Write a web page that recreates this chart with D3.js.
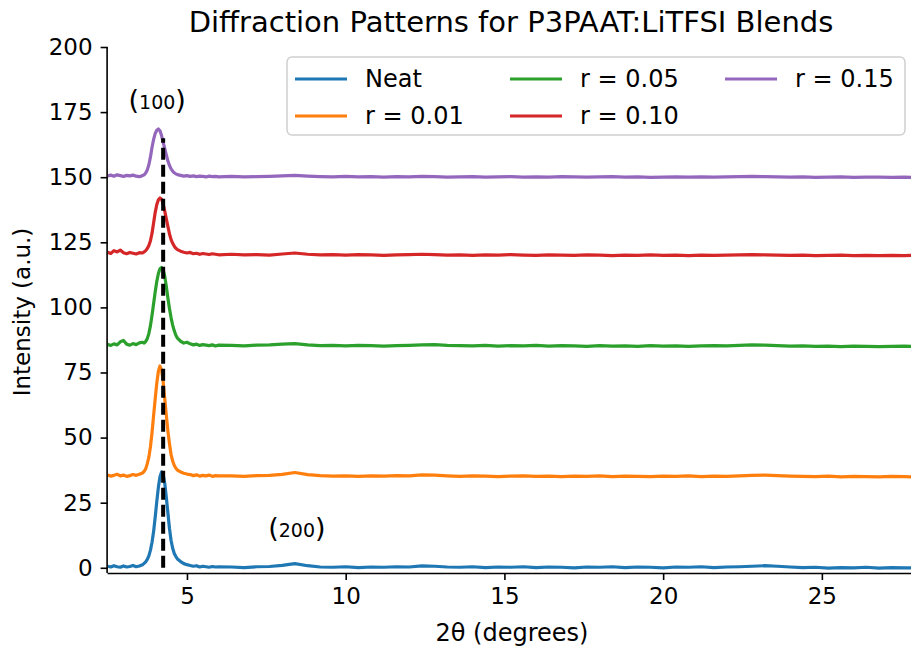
<!DOCTYPE html>
<html>
<head>
<meta charset="utf-8">
<script src="https://cdn.jsdelivr.net/npm/d3@7"></script>
<style>
  html, body { margin: 0; padding: 0; background: #fff; }
  svg { display: block; font-family: "DejaVu Sans", sans-serif; }
</style>
</head>
<body>
<svg id="chart" width="911" height="647"></svg>
<script>
// 2θ sampling positions (degrees)
const twoTheta = [
  2.5, 2.6, 2.7, 2.8, 2.9, 3.0, 3.1, 3.2, 3.3, 3.4, 3.5, 3.6,
  3.65, 3.70, 3.75, 3.80, 3.85, 3.90, 3.95, 4.00, 4.05, 4.10, 4.15, 4.20, 4.25, 4.30, 4.35, 4.40, 4.45, 4.50, 4.55, 4.60, 4.65, 4.70,
  4.8, 4.9, 5.0, 5.1, 5.2, 5.3, 5.4, 5.5, 5.6, 5.7, 5.8, 5.9, 6.0,
  6.4, 6.8, 7.2, 7.6, 8.0, 8.4, 8.8, 9.2, 9.6, 10.0, 10.4, 10.8, 11.2, 11.6, 12.0, 12.4, 12.8, 13.2, 13.6, 14.0,
  14.4, 14.8, 15.2, 15.6, 16.0, 16.4, 16.8, 17.2, 17.6, 18.0, 18.4, 18.8, 19.2, 19.6, 20.0, 20.4, 20.8, 21.2,
  21.6, 22.0, 22.4, 22.8, 23.2, 23.6, 24.0, 24.4, 24.8, 25.2, 25.6, 26.0, 26.4, 26.8, 27.2, 27.6, 28.0
];

// Offset intensity traces (a.u.)
const neat = [
  0.6, 0.3, 0.8, 0.4, 0.2, 0.7, 0.3, 0.5, 0.9, 0.4, 0.7, 1.2,
  1.7, 2.3, 3.2, 4.6, 6.8, 9.8, 14.0, 19.5, 25.5, 31.0, 35.0, 36.8, 36.0, 32.5, 27.0, 21.0, 15.0, 10.5, 7.5, 5.5, 4.3, 3.4,
  2.4, 1.6, 1.2, 0.9, 0.6, 0.8, 0.3, 0.6, 0.4, 0.2, 0.5, 0.3, 0.4,
  0.3, 0.1, 0.4, 0.5, 0.9, 1.6, 0.8, 0.3, 0.2, 0.4, 0.1, 0.3, 0.2, 0.4, 0.3, 0.7, 0.6, 0.3, 0.2, 0.4,
  0.1, 0.3, 0.2, 0.4, 0.1, 0.3, 0.2, 0.0, 0.3, 0.2, 0.4, 0.1, 0.3, 0.2, 0.0, 0.3, 0.2, 0.4,
  0.1, 0.3, 0.4, 0.6, 0.8, 0.6, 0.3, 0.1, 0.2, -0.1, 0.1, 0.0, 0.2, -0.1, 0.1, 0.0, -0.1
];
const r001 = [
  35.6, 35.2, 35.5, 35.9, 35.3, 35.6, 35.1, 35.4, 35.8, 35.5, 35.9, 36.4,
  37.0, 38.0, 40.0, 42.5, 46.5, 52.0, 58.5, 65.0, 71.0, 75.5, 77.5, 76.0, 71.5, 65.0, 58.5, 52.5, 47.5, 43.5, 41.0, 39.3, 38.2, 37.5,
  36.8, 36.3, 36.0, 35.8, 35.4, 35.7, 35.2, 35.5, 35.3, 35.6, 35.1, 35.4, 35.3,
  35.3, 35.1, 35.4, 35.5, 35.9, 36.6, 35.8, 35.4, 35.2, 35.3, 35.1, 35.3, 35.2, 35.4, 35.3, 35.7, 35.6, 35.3, 35.1, 35.3,
  35.2, 35.0, 35.2, 35.3, 35.1, 35.2, 35.0, 35.2, 35.1, 35.3, 35.0, 35.2, 35.1, 35.0, 35.2, 35.1, 35.3, 35.0,
  35.2, 35.1, 35.3, 35.5, 35.6, 35.4, 35.2, 35.1, 35.0, 35.2, 34.9, 35.1, 35.0, 34.9, 35.1, 35.0, 34.9
];
const r005 = [
  85.8, 85.4, 86.0, 85.6, 86.8, 87.3, 85.9, 85.5, 86.1, 85.7, 86.4, 86.6,
  86.3, 86.9, 88.0, 90.0, 93.0, 97.0, 101.5, 106.0, 110.0, 113.0, 114.8, 115.3, 114.5, 112.0, 108.0, 103.5, 99.5, 96.0, 93.2, 91.0, 89.3, 88.2,
  87.0, 86.3, 86.6, 86.0, 85.6, 85.9, 85.4, 85.7, 85.5, 85.3, 85.6, 85.2, 85.5,
  85.4, 85.2, 85.5, 85.6, 85.9, 86.1, 85.6, 85.3, 85.4, 85.2, 85.4, 85.3, 85.1, 85.3, 85.4, 85.6, 85.7, 85.4, 85.3, 85.2,
  85.4, 85.1, 85.3, 85.2, 85.4, 85.1, 85.3, 85.2, 85.0, 85.3, 85.1, 85.2, 85.0, 85.3, 85.1, 85.2, 85.0, 85.2,
  85.3, 85.2, 85.4, 85.6, 85.5, 85.3, 85.1, 85.2, 85.0, 85.1, 84.9, 85.1, 85.0, 84.9, 85.0, 85.1, 84.9
];
const r010 = [
  121.2, 120.7, 121.8, 121.3, 122.0, 121.0, 120.6, 121.1, 120.8, 120.5, 121.0, 120.9,
  121.3, 121.8, 122.6, 123.8, 125.6, 128.5, 132.5, 136.5, 139.5, 141.3, 142.0, 141.5, 139.8, 137.0, 134.0, 131.0, 128.2, 126.0, 124.6, 123.5, 122.7, 122.2,
  121.6, 121.2, 120.9, 121.1, 120.6, 120.8, 120.4, 120.7, 120.5, 120.3, 120.6, 120.4, 120.2,
  120.4, 120.2, 120.3, 120.1, 120.5, 120.9, 120.4, 120.2, 120.3, 120.1, 120.3, 120.2, 120.0, 120.2, 120.3, 120.4, 120.3, 120.1, 120.2, 120.0,
  120.2, 120.1, 120.3, 120.1, 120.0, 120.2, 120.1, 120.0, 120.2, 120.1, 119.9, 120.1, 120.0, 120.2, 120.0, 120.1, 119.9, 120.1,
  120.0, 120.1, 120.2, 120.3, 120.2, 120.1, 120.0, 120.1, 119.9, 120.0, 120.1, 119.9, 120.0, 119.9, 120.0, 119.9, 120.0
];
const r015 = [
  150.5, 150.8, 150.4, 150.9, 150.6, 150.3, 150.7, 150.5, 150.8, 150.4, 150.2, 150.6,
  150.9, 151.6, 152.8, 154.8, 157.8, 161.5, 164.5, 166.8, 168.0, 168.5, 167.8, 166.0, 163.5, 161.0, 158.6, 156.2, 154.5, 153.2, 152.3, 151.7, 151.3, 151.0,
  150.7, 150.4, 150.6, 150.3, 150.5, 150.2, 150.4, 150.3, 150.1, 150.4, 150.2, 150.3, 150.1,
  150.3, 150.1, 150.2, 150.3, 150.5, 150.7, 150.4, 150.2, 150.1, 150.3, 150.1, 150.2, 150.0, 150.2, 150.1, 150.3, 150.2, 150.0, 150.1, 150.2,
  150.0, 150.1, 150.2, 150.0, 150.1, 150.0, 150.2, 150.1, 150.0, 150.1, 150.2, 150.0, 150.1, 149.9, 150.0, 150.1, 150.0, 150.1,
  150.0, 150.1, 150.2, 150.3, 150.2, 150.1, 150.0, 150.1, 149.9, 150.0, 150.1, 149.9, 150.0, 150.0, 149.9, 150.0, 149.9
];

const seriesNames = ["Neat", "r = 0.01", "r = 0.05", "r = 0.10", "r = 0.15"];
const seriesColors = ["#1f77b4", "#ff7f0e", "#2ca02c", "#d62728", "#9467bd"];
const seriesValues = [neat, r001, r005, r010, r015];

const xTicks = [5, 10, 15, 20, 25];
const yTicks = [0, 25, 50, 75, 100, 125, 150, 175, 200];

// (100) reflection marker position and reach
const peakPosition = 4.25;
const peakMarkerTop = 165;
const reflectionLabels = [
  { hkl: "100", x: 4.0, y: 176 },
  { hkl: "200", x: 8.4, y: 12 }
];

const svg = d3.select("#chart");
const font = "DejaVu Sans, sans-serif";

const x = d3.scaleLinear().domain([2.5, 28]).range([107.6, 917.1]);
const y = d3.scaleLinear().domain([-2, 200]).range([573, 47]);

// traces
const line = d3.line()
  .x(d => x(d[0]))
  .y(d => y(d[1]));

svg.append("defs").append("clipPath").attr("id", "plot-clip")
  .append("rect").attr("x", 107.6).attr("y", 40).attr("width", 911 - 107.6).attr("height", 573 - 40);

const traces = svg.append("g").attr("clip-path", "url(#plot-clip)");
seriesValues.forEach((vals, i) => {
  traces.append("path")
    .datum(twoTheta.map((t, k) => [t, vals[k]]))
    .attr("fill", "none")
    .attr("stroke", seriesColors[i])
    .attr("stroke-width", 3.2)
    .attr("stroke-linejoin", "round")
    .attr("d", line);
});

// dashed marker at the (100) peak
svg.append("line")
  .attr("x1", x(peakPosition)).attr("x2", x(peakPosition))
  .attr("y1", y(0)).attr("y2", y(peakMarkerTop))
  .attr("stroke", "#000")
  .attr("stroke-width", 4)
  .attr("stroke-dasharray", "12,5");

// axes
const xAxis = svg.append("g")
  .attr("transform", `translate(0,${573})`)
  .call(d3.axisBottom(x).tickValues(xTicks).tickSize(7).tickPadding(8).tickFormat(d3.format("d")));
const yAxis = svg.append("g")
  .attr("transform", `translate(${107.6},0)`)
  .call(d3.axisLeft(y).tickValues(yTicks).tickSize(7).tickPadding(8).tickFormat(d3.format("d")));

[xAxis, yAxis].forEach(g => {
  g.select(".domain").attr("stroke", "#000").attr("stroke-width", 1.6);
  g.selectAll(".tick line").attr("stroke", "#000").attr("stroke-width", 1.6);
  g.selectAll(".tick text").attr("fill", "#000").style("font-family", font).style("font-size", "23px");
});
xAxis.select(".domain").attr("d", `M${107.6},0.5H911`);
yAxis.select(".domain").attr("d", `M-0.5,${573}V47`);

// title and axis labels
svg.append("text")
  .attr("x", 511).attr("y", 32)
  .attr("text-anchor", "middle")
  .style("font-family", font).style("font-size", "29px")
  .text("Diffraction Patterns for P3PAAT:LiTFSI Blends");

svg.append("text")
  .attr("x", 512).attr("y", 641)
  .attr("text-anchor", "middle")
  .style("font-family", font).style("font-size", "24px")
  .text("2θ (degrees)");

svg.append("text")
  .attr("transform", `translate(30,${312}) rotate(-90)`)
  .attr("text-anchor", "middle")
  .style("font-family", font).style("font-size", "23px")
  .text("Intensity (a.u.)");

// reflection labels
reflectionLabels.forEach(r => {
  const t = svg.append("text")
    .attr("x", x(r.x) + 2).attr("y", y(r.y))
    .attr("text-anchor", "middle")
    .style("font-family", font);
  t.append("tspan").style("font-size", "27px").text("(");
  t.append("tspan").style("font-size", "19px").text(r.hkl);
  t.append("tspan").style("font-size", "27px").text(")");
});

// legend
const legend = svg.append("g");
legend.append("rect")
  .attr("x", 287).attr("y", 57).attr("width", 618).attr("height", 78)
  .attr("rx", 5).attr("ry", 5)
  .attr("fill", "#fff").attr("fill-opacity", 0.8)
  .attr("stroke", "#d0d0d0").attr("stroke-width", 1.5);

const colX = [295, 510, 725];
const rowY = [79, 116];
seriesNames.forEach((name, i) => {
  const col = Math.floor(i / 2), row = i % 2;
  const g = legend.append("g");
  g.append("line")
    .attr("x1", colX[col]).attr("x2", colX[col] + 52)
    .attr("y1", rowY[row]).attr("y2", rowY[row])
    .attr("stroke", seriesColors[i]).attr("stroke-width", 3.2);
  g.append("text")
    .attr("x", colX[col] + 70).attr("y", rowY[row])
    .attr("dy", "0.35em")
    .style("font-family", font).style("font-size", "24px")
    .text(name);
});
</script>
</body>
</html>
